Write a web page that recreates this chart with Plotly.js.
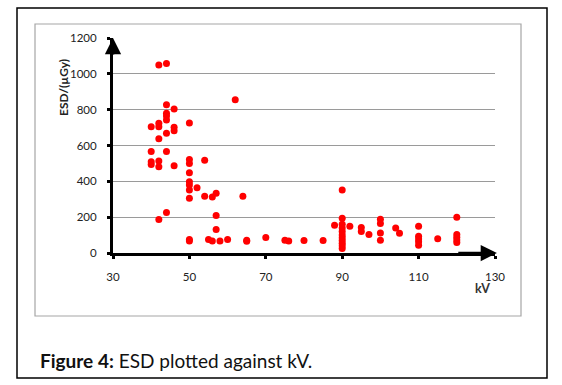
<!DOCTYPE html>
<html>
<head>
<meta charset="utf-8">
<script src="https://cdn.plot.ly/plotly-3.0.1.min.js"></script>
<style>
html,body{margin:0;padding:0;background:#fff;}
#chart{width:562px;height:385px;}
</style>
</head>
<body>
<div id="chart"></div>
<script>
// Data
var kv = [
  42, 44, 44, 44, 44, 44, 46, 40, 42, 42, 46, 46, 50, 44, 42, 40, 44, 40, 40, 42,
  42, 46, 50, 50, 54, 50, 50, 50, 50, 52, 54, 56, 57, 64, 62, 50, 44, 42, 57, 57,
  50, 50, 55, 56, 58, 60, 65, 65, 70, 75, 76, 80, 85, 88,
  90, 90, 90, 90, 90, 90, 90, 90, 90, 90, 90,
  92, 95, 95, 97, 100, 100, 100, 100, 104, 105,
  110, 110, 110, 110, 110, 115, 120, 120, 120, 120, 120
];
var esd = [
  1050, 1058, 828, 780, 765, 743, 804, 705, 724, 705, 702, 683, 726, 668, 638, 567, 567, 509, 494, 513,
  481, 487, 522, 500, 517, 448, 397, 379, 351, 364, 317, 312, 334, 317, 855, 306, 226, 187, 209, 131,
  75, 67, 75, 67, 67, 75, 71, 66, 86, 71, 67, 70, 70, 155,
  351, 194, 160, 140, 120, 100, 85, 70, 55, 40, 25,
  149, 142, 120, 103, 189, 165, 112, 71, 140, 110,
  149, 93, 78, 63, 43, 79, 200, 103, 88, 73, 58
];
var yTicks = [0, 200, 400, 600, 800, 1000, 1200];
var xTicks = [30, 50, 70, 90, 110, 130];
var yTitle = 'ESD/(µGy)';
var xTitle = 'kV';
var caption = '<b>Figure 4:</b> ESD plotted against kV.';

var W = 562, H = 385, mL = 113, mR = 67, mT = 38, mB = 132;
var pw = W - mL - mR, ph = H - mT - mB;
function px(x){ return (x - mL) / pw; }
function py(y){ return (H - mB - y) / ph; }

var tickFont = {family: 'Lato, "DejaVu Sans", sans-serif', size: 11.5, color: '#222'};

var data = [{
  type: 'scatter',
  mode: 'markers',
  x: kv,
  y: esd,
  marker: {color: '#ff0000', size: 7, line: {width: 0}},
  cliponaxis: false,
  hoverinfo: 'x+y'
}];

var layout = {
  width: W, height: H,
  margin: {l: mL, r: mR, t: mT, b: mB, pad: 0},
  paper_bgcolor: '#fff',
  plot_bgcolor: 'rgba(0,0,0,0)',
  showlegend: false,
  xaxis: {
    range: [30, 130],
    tickmode: 'array', tickvals: xTicks, ticktext: xTicks.map(String),
    showgrid: false, zeroline: false,
    showline: true, linecolor: '#000', linewidth: 3,
    ticks: 'outside', ticklen: 3, tickwidth: 3, tickcolor: '#000',
    ticklabelstandoff: 8,
    tickfont: tickFont,
    fixedrange: true
  },
  yaxis: {
    range: [0, 1200],
    tickmode: 'array', tickvals: yTicks, ticktext: yTicks.map(String),
    showgrid: true, gridcolor: '#9a9a9a', gridwidth: 1,
    zeroline: false,
    showline: true, linecolor: '#000', linewidth: 3,
    ticks: 'outside', ticklen: 3, tickwidth: 3, tickcolor: '#000',
    ticklabelstandoff: 8,
    tickfont: tickFont,
    fixedrange: true
  },
  shapes: [
    {type: 'rect', xref: 'paper', yref: 'paper',
     x0: px(17), x1: px(547), y0: py(378), y1: py(8),
     line: {color: '#000', width: 1.5}, fillcolor: 'rgba(0,0,0,0)', layer: 'below'},
    {type: 'rect', xref: 'paper', yref: 'paper',
     x0: px(35), x1: px(521), y0: py(316), y1: py(24),
     line: {color: '#a6a6a6', width: 1.2}, fillcolor: 'rgba(0,0,0,0)', layer: 'below'}
  ],
  annotations: [
    {x: 30, y: 1200, ax: 30, ay: 1100, xref: 'x', yref: 'y', axref: 'x', ayref: 'y',
     text: '', showarrow: true, arrowhead: 2, arrowsize: 1.3, arrowwidth: 2.5, arrowcolor: '#000', standoff: 0},
    {x: 130.5, y: 0, ax: 120, ay: 0, xref: 'x', yref: 'y', axref: 'x', ayref: 'y',
     text: '', showarrow: true, arrowhead: 2, arrowsize: 1.3, arrowwidth: 2.5, arrowcolor: '#000', standoff: 0},
    {x: px(63), y: py(88), xref: 'paper', yref: 'paper', text: '<b>' + yTitle + '</b>',
     textangle: -90, showarrow: false, xanchor: 'center', yanchor: 'middle',
     font: {family: 'Lato, "DejaVu Sans", sans-serif', size: 12, color: '#222'}},
    {x: px(482), y: py(288), xref: 'paper', yref: 'paper', text: '<b>' + xTitle + '</b>',
     showarrow: false, xanchor: 'center', yanchor: 'middle',
     font: {family: 'Lato, "DejaVu Sans", sans-serif', size: 12.5, color: '#333'}},
    {x: px(38), y: py(360), xref: 'paper', yref: 'paper', text: caption,
     showarrow: false, xanchor: 'left', yanchor: 'middle',
     font: {family: 'Lato, "DejaVu Sans", sans-serif', size: 19, color: '#111'}}
  ]
};

Plotly.newPlot('chart', data, layout, {displayModeBar: false, staticPlot: true});
</script>
</body>
</html>
